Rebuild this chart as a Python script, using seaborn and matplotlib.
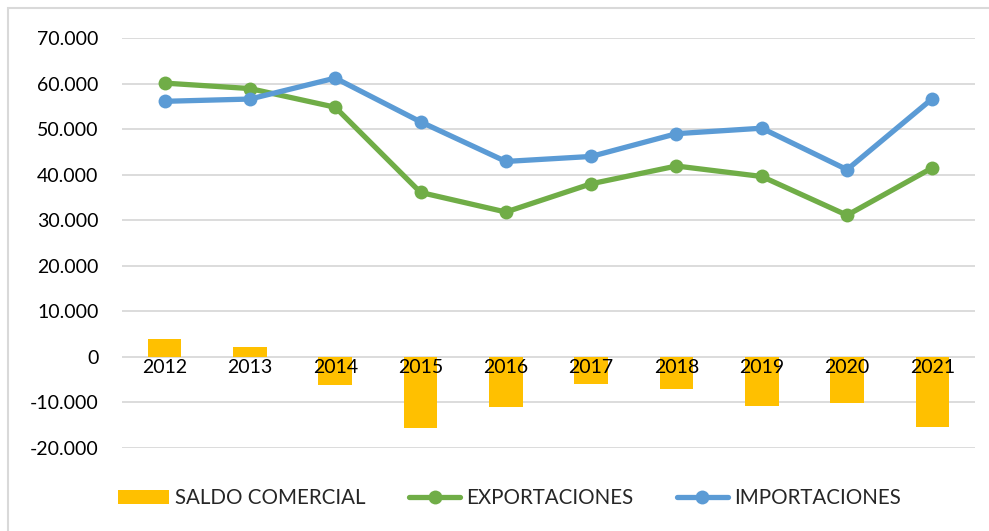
import matplotlib
matplotlib.use("Agg")
import matplotlib.pyplot as plt
from matplotlib.patches import Rectangle
from matplotlib.lines import Line2D
from matplotlib.ticker import FuncFormatter
import numpy as np
import pandas as pd
import seaborn as sns

years = ["2012", "2013", "2014", "2015", "2016", "2017", "2018", "2019", "2020", "2021"]
saldo = [4000, 2200, -6100, -15600, -11000, -6000, -7000, -10800, -10100, -15300]
exportaciones = [60100, 58900, 54800, 36100, 31800, 38000, 41900, 39600, 31100, 41500]
importaciones = [56100, 56600, 61200, 51600, 42900, 44000, 49000, 50200, 41100, 56700]
y_ticks = [-20000, -10000, 0, 10000, 20000, 30000, 40000, 50000, 60000, 70000]

C_BAR = "#FFC000"
C_EXP = "#70AD47"
C_IMP = "#5B9BD5"
C_GRID = "#D9D9D9"

sns.set_theme(style="white")
plt.rcParams["font.family"] = ["Lato", "DejaVu Sans"]

df = pd.DataFrame({"year": years, "saldo": saldo, "exp": exportaciones,
                   "imp": importaciones, "pos": np.arange(len(years))})

fig = plt.figure(figsize=(9.89, 5.31), dpi=100)
ax = fig.add_axes([122/989, 1-448/531, (975-122)/989, (448-38)/531])

for t in y_ticks:
    ax.axhline(t, color=C_GRID, lw=1.3, zorder=0)

sns.barplot(data=df, x="year", y="saldo", color=C_BAR, saturation=1,
            width=0.395, ax=ax, zorder=1, edgecolor="none")
sns.lineplot(data=df, x="pos", y="exp", color=C_EXP, lw=3.8, marker="o",
             markersize=10, markeredgewidth=0, ax=ax, zorder=3)
sns.lineplot(data=df, x="pos", y="imp", color=C_IMP, lw=3.8, marker="o",
             markersize=10, markeredgewidth=0, ax=ax, zorder=3)

ax.set_xlim(-0.5, len(years)-0.5)
ax.set_ylim(-20000, 70000)
ax.set_yticks(y_ticks)
ax.yaxis.set_major_formatter(FuncFormatter(lambda v, p: f"{int(v):,}".replace(",", ".")))
ax.set_xticks(range(len(years)))
ax.set_xticklabels(years)
ax.set_xlabel("")
ax.set_ylabel("")
for s in ax.spines.values():
    s.set_visible(False)
ax.spines["bottom"].set_position(("data", 0))
ax.tick_params(axis="y", length=0, pad=17, labelsize=14, labelcolor="#000000")
ax.tick_params(axis="x", length=0, pad=1.5, labelsize=14, labelcolor="#000000")
ax.grid(False)
ax.set_axisbelow(False)
ax.patch.set_alpha(0)

handles = [Rectangle((0, 0), 1, 1, facecolor=C_BAR, edgecolor="none"),
           Line2D([], [], color=C_EXP, lw=3.8, marker="o", markersize=10, markeredgewidth=0),
           Line2D([], [], color=C_IMP, lw=3.8, marker="o", markersize=10, markeredgewidth=0)]
labels = ["SALDO COMERCIAL", "EXPORTACIONES", "IMPORTACIONES"]
fig.legend(handles, labels, loc="center", bbox_to_anchor=(0.515, 1-498/531), ncol=3,
           frameon=False, fontsize=14.8, handlelength=2.5, handleheight=0.7,
           handletextpad=0.3, columnspacing=2.1)

fig.patches.append(Rectangle((8/989, -0.05), 1.1, 1-8/531+0.05, transform=fig.transFigure,
                             fill=False, edgecolor=C_GRID, lw=1.5, zorder=0))

fig.savefig("out.png", dpi=100)
